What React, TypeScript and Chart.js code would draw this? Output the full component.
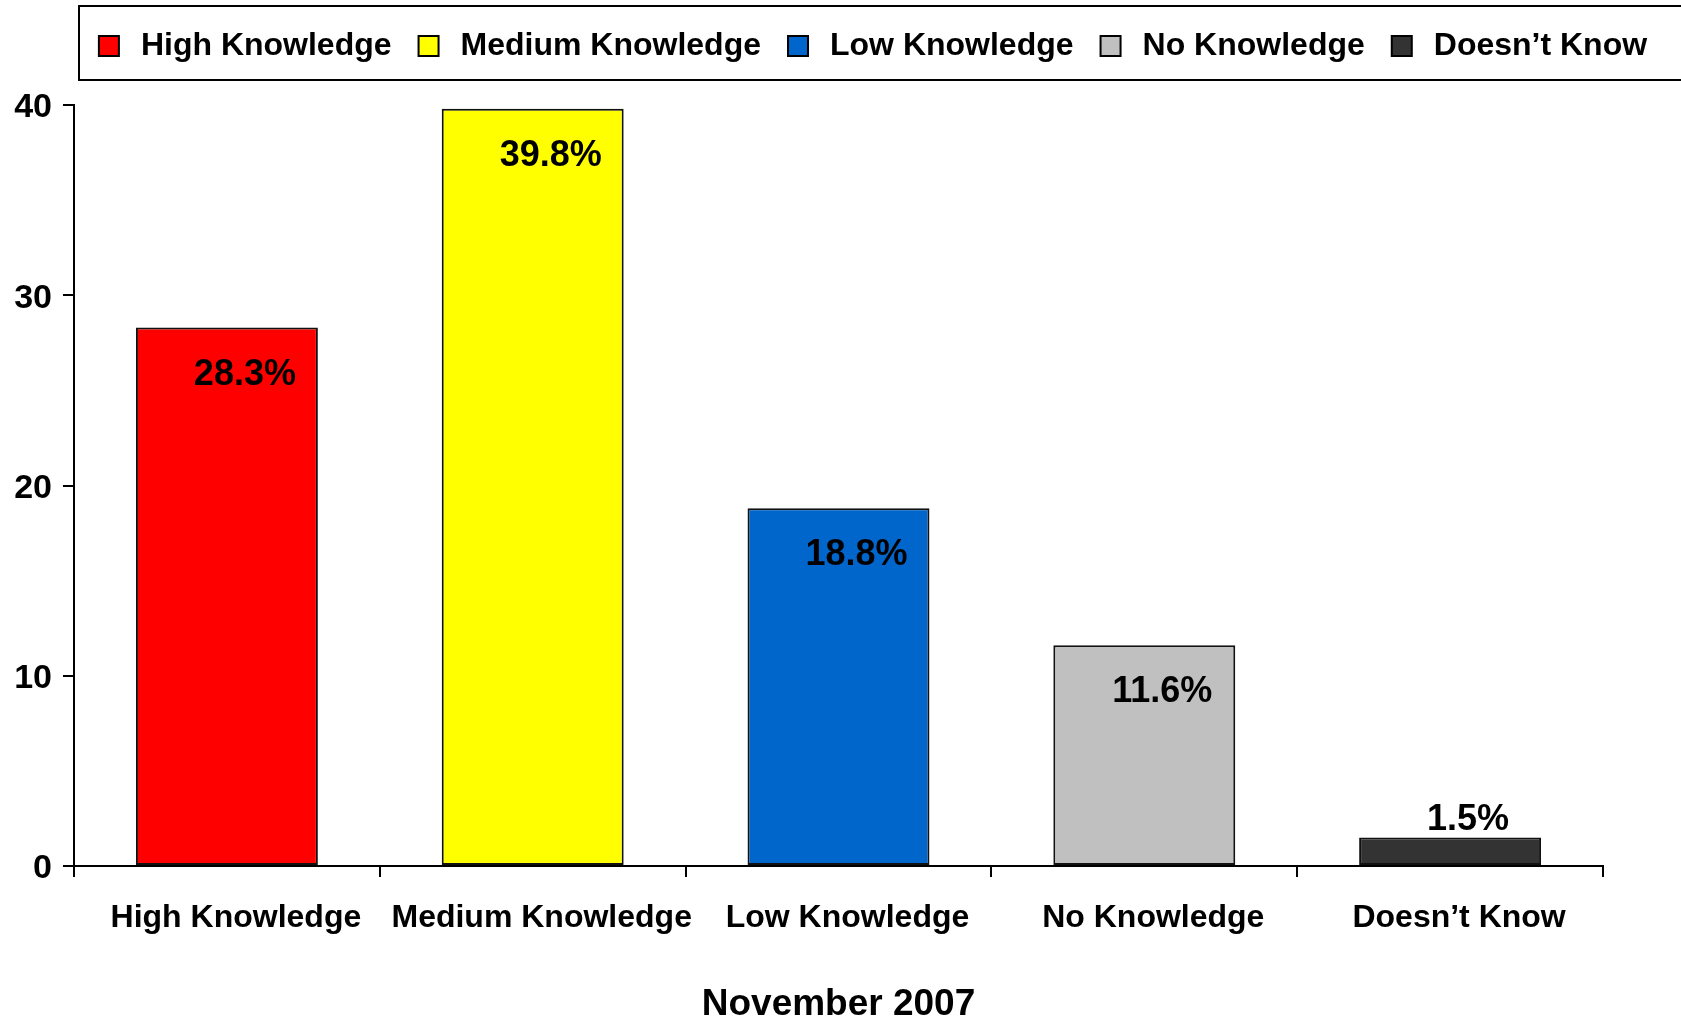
import React, { useEffect, useRef } from 'react';
import { Chart, registerables } from 'chart.js';

Chart.register(...registerables);

const categories = ['High Knowledge', 'Medium Knowledge', 'Low Knowledge', 'No Knowledge', 'Doesn\u2019t Know'];
const values = [28.3, 39.8, 18.8, 11.6, 1.5];
const barColors = ['#FF0000', '#FFFF00', '#0066CC', '#C0C0C0', '#333333'];
const yTickValues = [0, 10, 20, 30, 40];
const xAxisTitle = 'November 2007';

const FONT = "'Liberation Sans', Arial, Helvetica, sans-serif";

export default function App() {
  const ref = useRef<HTMLCanvasElement | null>(null);

  useEffect(() => {
    if (!ref.current) return;
    Chart.defaults.font.family = FONT;
    Chart.defaults.color = '#000';

    const legendSpacer = {
      id: 'legendSpacer',
      beforeLayout(chart: any) {
        const lg = chart.legend;
        if (lg && !lg._spaced) {
          const orig = lg.fit;
          lg.fit = function () {
            orig.call(this);
            this.height += 33;
          };
          lg._spaced = true;
        }
      },
    };

    const legendFrame = {
      id: 'legendFrame',
      afterDraw(chart: any) {
        const lg = chart.legend;
        if (!lg) return;
        const ctx = chart.ctx;
        ctx.save();
        ctx.strokeStyle = '#000';
        ctx.lineWidth = 2;
        ctx.strokeRect(chart.chartArea.left + 5, lg.top - 3, chart.width, 74);
        ctx.restore();
      },
    };

    const valueLabels = {
      id: 'valueLabels',
      afterDatasetsDraw(chart: any) {
        const ctx = chart.ctx;
        const meta = chart.getDatasetMeta(0);
        ctx.save();
        ctx.font = `bold 36px ${FONT}`;
        ctx.fillStyle = '#000';
        ctx.textAlign = 'center';
        ctx.textBaseline = 'alphabetic';
        meta.data.forEach((bar: any, i: number) => {
          const v = values[i];
          const text = `${v.toFixed(1)}%`;
          const y = v >= 5 ? bar.y + 57 : bar.y - 7;
          ctx.fillText(text, bar.x + 18, y);
        });
        ctx.restore();
      },
    };

    const chart = new Chart(ref.current, {
      type: 'bar',
      data: {
        labels: categories,
        datasets: [
          {
            label: xAxisTitle,
            data: values,
            backgroundColor: barColors,
            borderColor: '#111',
            borderWidth: 2,
            borderSkipped: false,
            barPercentage: 0.595,
            categoryPercentage: 1,
          },
        ],
      },
      options: {
        responsive: false,
        animation: false,
        devicePixelRatio: 1,
        layout: { padding: { left: 0, right: -59, top: 9, bottom: 0 } },
        plugins: {
          tooltip: { enabled: false },
          title: { display: false },
          legend: {
            display: true,
            position: 'top',
            align: 'center',
            labels: {
              usePointStyle: true,
              pointStyle: 'rect',
              boxWidth: 32,
              boxHeight: 20,
              padding: 21,
              color: '#000',
              font: { size: 32, weight: 'bold', family: FONT },
              generateLabels: () =>
                categories.map((c, i) => ({
                  text: c,
                  fillStyle: barColors[i],
                  strokeStyle: '#000',
                  lineWidth: 2,
                  pointStyle: 'rect',
                  hidden: false,
                  index: i,
                  fontColor: '#000',
                })),
            },
          },
        },
        scales: {
          x: {
            type: 'category',
            offset: true,
            grid: {
              offset: true,
              drawOnChartArea: false,
              drawTicks: true,
              tickLength: 11,
              color: '#000',
              lineWidth: 2,
            },
            border: { display: true, color: '#000', width: 2 },
            ticks: {
              color: '#000',
              padding: 22,
              labelOffset: 9,
              maxRotation: 0,
              autoSkip: false,
              font: { size: 32, weight: 'bold', family: FONT },
            },
            title: {
              display: true,
              text: xAxisTitle,
              color: '#000',
              padding: { top: 0, bottom: -7 },
              font: { size: 37, weight: 'bold', family: FONT },
            },
            afterFit: (s: any) => {
              s.height = 154;
            },
          },
          y: {
            type: 'linear',
            position: 'left',
            min: 0,
            max: 40,
            afterBuildTicks: (s: any) => {
              s.ticks = yTickValues.map((v) => ({ value: v }));
            },
            grid: {
              drawOnChartArea: false,
              drawTicks: true,
              tickLength: 11,
              color: '#000',
              lineWidth: 2,
            },
            border: { display: true, color: '#000', width: 2 },
            ticks: {
              color: '#000',
              padding: 11,
              labelOffset: 3,
              font: { size: 34, weight: 'bold', family: FONT },
            },
            afterFit: (s: any) => {
              s.width = 74;
            },
          },
          yr: {
            type: 'linear',
            position: 'right',
            display: true,
            grid: { display: false, drawTicks: false },
            border: { display: false },
            ticks: { display: false },
            afterFit: (s: any) => {
              s.width = 137;
            },
          },
        },
      },
      plugins: [legendSpacer, legendFrame, valueLabels],
    } as any);

    return () => chart.destroy();
  }, []);

  return (
    <div style={{ position: 'absolute', left: 0, top: 0, width: 1681, height: 1020, background: '#fff' }}>
      <canvas ref={ref} width={1681} height={1020} style={{ display: 'block' }} />
    </div>
  );
}
